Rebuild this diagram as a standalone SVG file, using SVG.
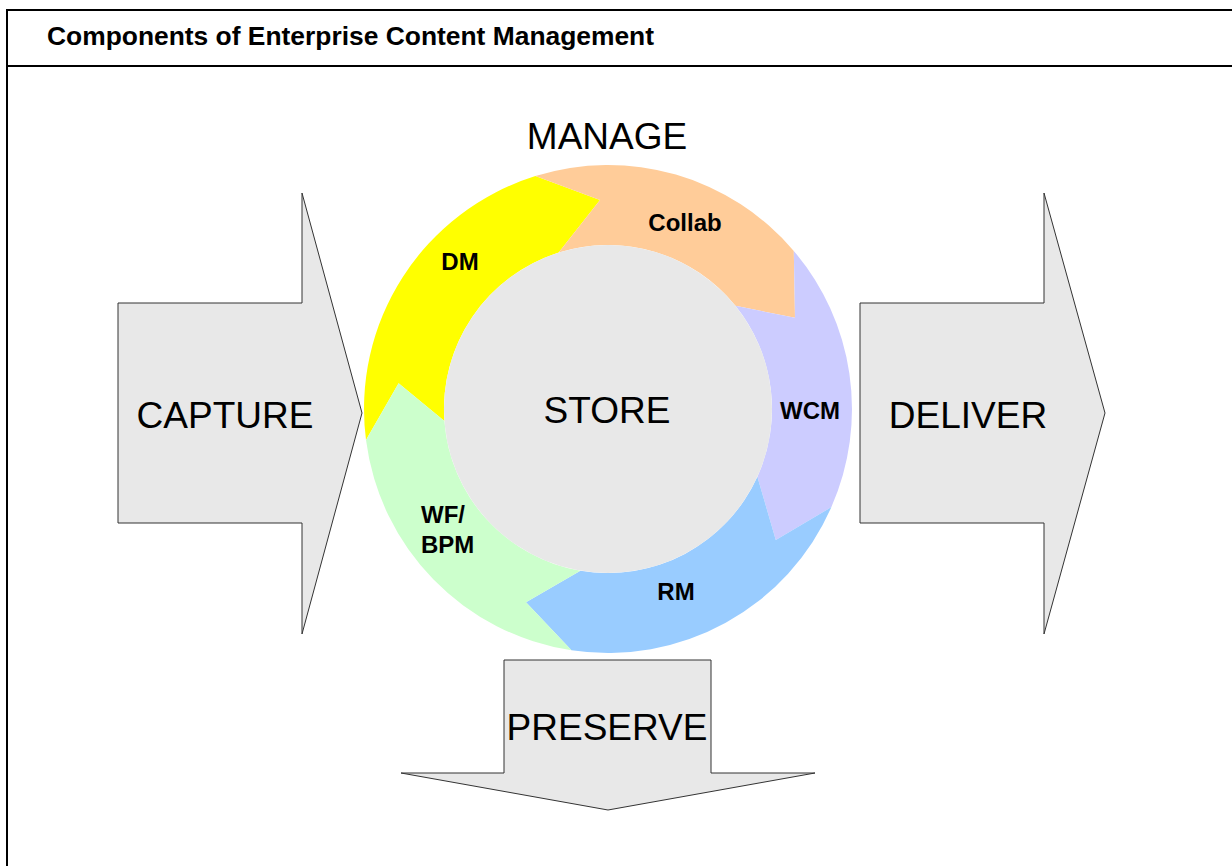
<svg xmlns="http://www.w3.org/2000/svg" width="1232" height="866" viewBox="0 0 1232 866">
<style>
.frame{fill:none;stroke:#000;stroke-width:2}
.big{fill:#e8e8e8;stroke:#333;stroke-width:1}
.lbl{font-family:"Liberation Sans",Arial,sans-serif;font-size:37px;fill:#000;text-anchor:middle}
.sm{font-family:"Liberation Sans",Arial,sans-serif;font-size:24px;font-weight:bold;fill:#000}
.title{font-family:"Liberation Sans",Arial,sans-serif;font-size:26.4px;font-weight:bold;fill:#000}
</style>
<rect width="1232" height="866" fill="#fff"/>
<g id="frame">
<path class="frame" d="M7,866 V10 H1232 M7,66 H1232"/>
<text class="title" x="47" y="45">Components of Enterprise Content Management</text>
</g>
<g id="capture">
<polygon class="big" points="118,303 302,303 302,193 362,413 302,634 302,523 118,523"/>
<text class="lbl" x="225" y="428">CAPTURE</text>
</g>
<g id="deliver">
<polygon class="big" points="860,303 1044,303 1044,193 1105,413 1044,634 1044,523 860,523"/>
<text class="lbl" x="968" y="428">DELIVER</text>
</g>
<g id="preserve">
<polygon class="big" points="504,660 711,660 711,773 815,773 608,810 401,773 504,773"/>
<text class="lbl" x="607" y="740">PRESERVE</text>
</g>
<g id="manage">
<text class="lbl" x="607" y="149">MANAGE</text>
</g>
<g id="dm">
<path fill="#ffff00" d="M366.0,440.0 A244,244 0 0 1 535.4,176.0 L600.0,200.1 L558.7,252.6 A164,164 0 0 0 444.4,421.0 L398.6,383.3 Z"/>
<text class="sm" x="460" y="270" text-anchor="middle">DM</text>
</g>
<g id="collab">
<path fill="#ffcc99" d="M535.4,176.0 A244,244 0 0 1 793.8,250.9 L795.0,317.8 L735.4,305.8 A164,164 0 0 0 558.7,252.6 L600.0,200.1 Z"/>
<text class="sm" x="685" y="231" text-anchor="middle">Collab</text>
</g>
<g id="wcm">
<path fill="#ccccff" d="M793.8,250.9 A244,244 0 0 1 831.4,507.1 L775.8,540.1 L757.4,476.7 A164,164 0 0 0 735.4,305.8 L795.0,317.8 Z"/>
<text class="sm" x="810" y="419" text-anchor="middle">WCM</text>
</g>
<g id="rm">
<path fill="#99ccff" d="M831.4,507.1 A244,244 0 0 1 571.5,650.3 L526.0,602.3 L580.4,570.7 A164,164 0 0 0 757.4,476.7 L775.8,540.1 Z"/>
<text class="sm" x="676" y="600" text-anchor="middle">RM</text>
</g>
<g id="wfbpm">
<path fill="#ccffcc" d="M571.5,650.3 A244,244 0 0 1 366.0,440.0 L398.6,383.3 L444.4,421.0 A164,164 0 0 0 580.4,570.7 L526.0,602.3 Z"/>
<text class="sm" x="421" y="523">WF/</text>
<text class="sm" x="421" y="553">BPM</text>
</g>
<g id="store">
<circle cx="608" cy="409" r="164" fill="#e8e8e8"/>
<text class="lbl" x="607" y="423">STORE</text>
</g>
<g id="connectors"/>
</svg>
